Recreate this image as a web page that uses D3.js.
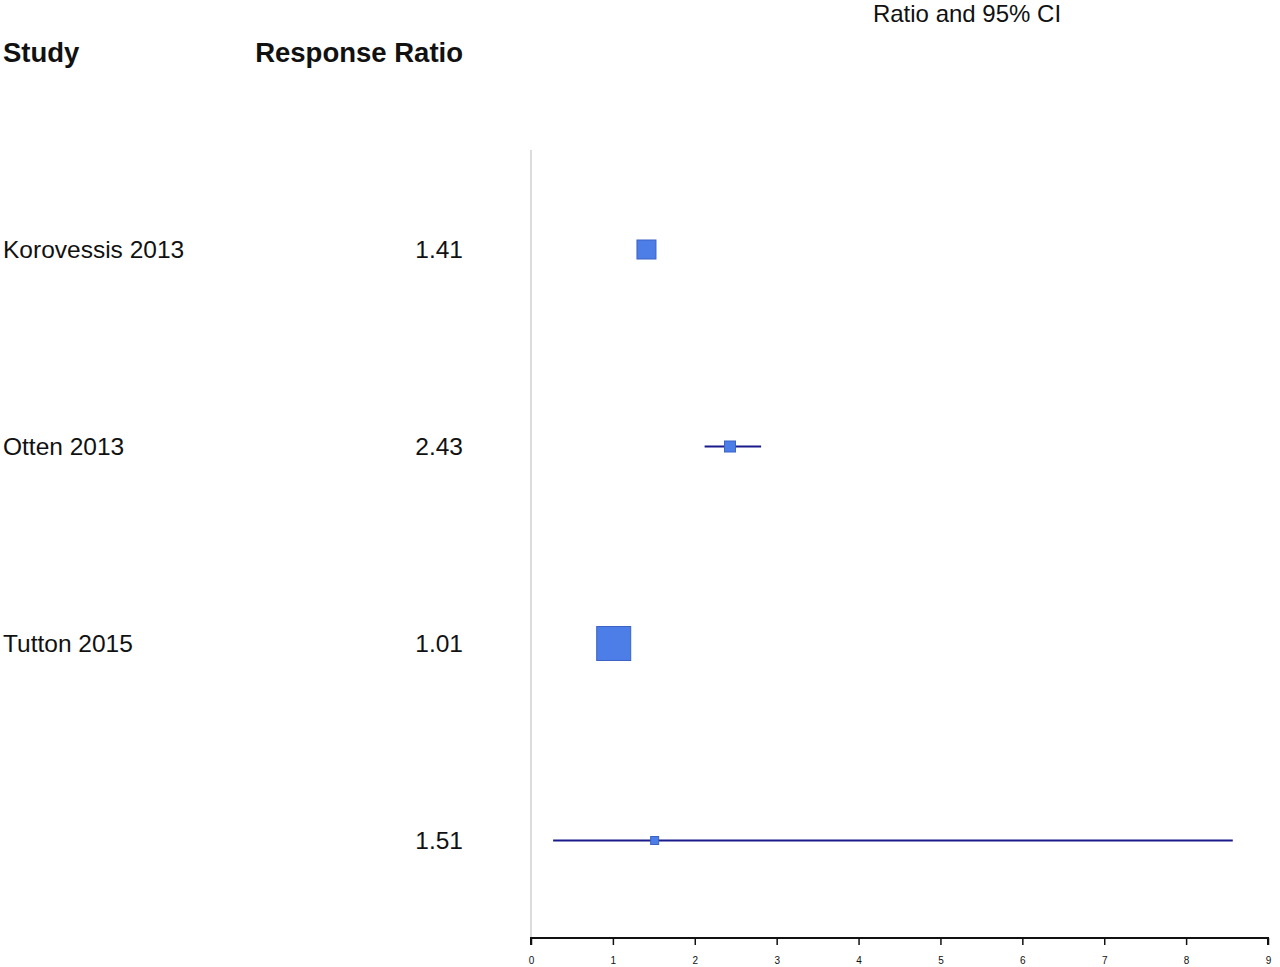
<!DOCTYPE html>
<html>
<head>
<meta charset="utf-8">
<script src="https://cdn.jsdelivr.net/npm/d3@7"></script>
<style>
  html, body { margin: 0; padding: 0; background: #fff; }
  svg { display: block; }
  text { font-family: "Liberation Sans", Arial, sans-serif; fill: #111; }
</style>
</head>
<body>
<svg id="chart" width="1280" height="967"></svg>
<script>
// ---- data ----
const studies   = ["Korovessis 2013", "Otten 2013", "Tutton 2015", ""];
const ratios    = [1.41, 2.43, 1.01, 1.51];
const lowerCI   = [1.33, 2.12, 0.85, 0.27];
const upperCI   = [1.50, 2.81, 1.18, 8.57];
const weights   = [19, 11, 34, 8];
const axisTicks = [0, 1, 2, 3, 4, 5, 6, 7, 8, 9];

const svg = d3.select("#chart");

const x = d3.scaleLinear().domain([0, 9]).range([531, 1268]);
const y = d3.scaleBand().domain(d3.range(studies.length)).range([151, 939]).paddingInner(0).paddingOuter(0);
const size = d3.scaleLinear().domain([0, 34]).range([0, 34]);

// headers
svg.append("text").attr("x", 3).attr("y", 62).attr("font-size", 27.5).attr("font-weight", "bold").text("Study");
svg.append("text").attr("x", 463).attr("y", 62).attr("text-anchor", "end").attr("font-size", 27.5).attr("font-weight", "bold").text("Response Ratio");
svg.append("text").attr("x", 967).attr("y", 22).attr("text-anchor", "middle").attr("font-size", 24).attr("fill", "#222").text("Ratio and 95% CI");

// reference line at 0
svg.append("line").attr("x1", x(0)).attr("x2", x(0)).attr("y1", 150).attr("y2", 938)
  .attr("stroke", "#d0d0d0").attr("stroke-width", 1.5);

// axis
const axis = d3.axisBottom(x).tickValues(axisTicks).tickSize(7).tickPadding(12).tickFormat(d3.format("d"));
const gAxis = svg.append("g").attr("transform", "translate(0,938)").call(axis);
gAxis.select(".domain").attr("stroke", "#111").attr("stroke-width", 2).attr("d", `M${x(0)},7V0H${x(9)}V7`);
gAxis.selectAll(".tick line").attr("stroke", "#111").attr("stroke-width", 1.5);
gAxis.selectAll(".tick text").attr("font-size", 10).attr("font-family", "Liberation Sans, Arial, sans-serif").attr("fill", "#111");

const rows = svg.append("g").selectAll("g").data(ratios.map((r, i) => ({
  name: studies[i], r, lo: lowerCI[i], hi: upperCI[i], w: weights[i], i
}))).join("g");

const cy = d => y(d.i) + y.bandwidth() / 2;

rows.append("text").attr("x", 3).attr("y", d => cy(d)).attr("dy", "0.36em").attr("font-size", 24.5).text(d => d.name);
rows.append("text").attr("x", 463).attr("y", d => cy(d)).attr("dy", "0.36em").attr("text-anchor", "end").attr("font-size", 24.5).text(d => d.r.toFixed(2));

rows.append("line")
  .attr("x1", d => x(d.lo)).attr("x2", d => x(d.hi))
  .attr("y1", d => cy(d)).attr("y2", d => cy(d))
  .attr("stroke", "#1a1a8c").attr("stroke-width", 2);

rows.append("rect")
  .attr("x", d => x(d.r) - size(d.w) / 2)
  .attr("y", d => cy(d) - size(d.w) / 2)
  .attr("width", d => size(d.w)).attr("height", d => size(d.w))
  .attr("fill", "#4d7ee8").attr("stroke", "#3b63c4").attr("stroke-width", 1);
</script>
</body>
</html>
